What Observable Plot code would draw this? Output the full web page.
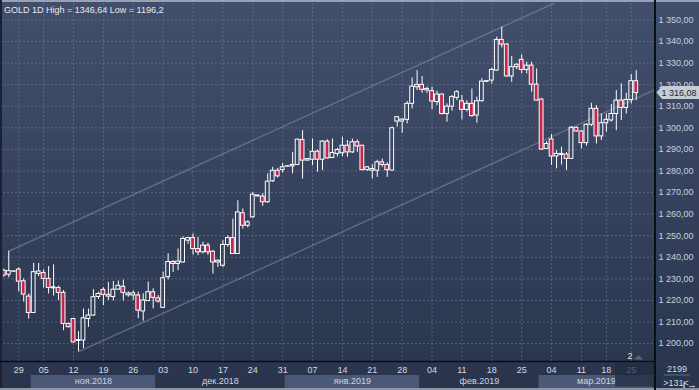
<!DOCTYPE html>
<html><head><meta charset="utf-8">
<script src="https://cdn.jsdelivr.net/npm/d3@7"></script>
<script src="https://cdn.jsdelivr.net/npm/@observablehq/plot@0.6"></script>
<style>
html,body{margin:0;padding:0;background:#2b364e;}
#chart svg{display:block;}
</style></head><body><div id="chart"></div>
<script>
const symbolName = "GOLD 1D";
const openPrices = [
1233.8,1231.9,1233.3,1234.3,1228.9,1221.8,1214.2,1232.3,1232.7,1230.0,
1225.6,1225.8,1223.5,1209.1,1211.4,1201.2,1201.4,1211.4,1213.0,1221.6,
1224.9,1221.8,1221.6,1225.0,1226.3,1222.4,1222.3,1222.3,1214.9,1219.7,
1223.8,1221.0,1216.6,1230.8,1237.8,1236.9,1237.6,1247.7,1248.9,1243.8,
1242.3,1245.4,1242.6,1237.6,1236.1,1245.7,1248.9,1241.5,1260.4,1254.6,
1258.5,1268.2,1268.1,1265.5,1275.2,1280.1,1280.4,1282.0,1282.1,1282.8,
1294.3,1284.8,1285.2,1288.9,1285.2,1293.6,1286.0,1287.9,1288.2,1291.7,
1288.6,1293.3,1291.7,1280.4,1280.9,1280.1,1284.0,1282.8,1280.2,1302.9,
1302.9,1303.7,1311.1,1318.8,1319.9,1317.3,1317.0,1311.9,1315.4,1306.4,
1309.8,1313.9,1312.3,1308.3,1311.1,1305.7,1312.3,1321.3,1321.9,1326.5,
1340.7,1338.6,1323.8,1328.1,1331.5,1326.8,1328.8,1320.0,1313.1,1290.2,
1294.6,1286.7,1287.4,1287.6,1285.6,1300.0,1298.3,1292.9,1301.4,1308.8,
1296.0,1302.1,1303.4,1306.4,1312.6,1309.2,1312.9,1321.6];
const highPrices = [
1234.5,1242.8,1233.8,1235.1,1230.0,1223.0,1237.2,1237.2,1234.1,1235.7,
1236.5,1226.6,1224.6,1209.5,1211.7,1205.5,1216.0,1216.0,1225.0,1223.8,
1225.9,1228.4,1228.8,1229.0,1229.5,1224.0,1224.5,1223.8,1223.1,1228.5,
1225.4,1222.3,1233.1,1241.6,1238.5,1243.8,1249.5,1249.2,1250.8,1249.2,
1247.0,1246.5,1243.0,1238.8,1247.7,1250.0,1257.7,1266.2,1262.4,1257.0,
1270.1,1268.9,1269.5,1278.6,1281.7,1281.2,1283.5,1282.4,1288.6,1294.8,
1298.7,1285.8,1294.8,1289.7,1294.1,1294.4,1294.8,1290.5,1295.6,1294.1,
1294.8,1294.3,1291.9,1282.0,1282.9,1285.0,1285.5,1283.8,1300.3,1305.2,
1304.2,1312.2,1323.1,1326.5,1323.8,1318.8,1318.8,1317.0,1315.7,1311.1,
1315.0,1317.3,1315.0,1312.6,1318.0,1314.2,1322.7,1321.9,1327.6,1342.0,
1346.64,1338.9,1333.0,1329.7,1333.8,1330.4,1330.4,1327.3,1313.4,1293.6,
1296.9,1289.5,1291.0,1288.6,1300.6,1300.3,1298.8,1301.9,1311.4,1310.3,
1306.4,1306.4,1310.8,1317.3,1320.4,1316.0,1324.7,1326.5];
const lowPrices = [
1230.8,1230.5,1232.9,1224.0,1219.2,1211.4,1214.0,1231.0,1225.8,1223.0,
1222.0,1219.9,1206.0,1207.2,1200.2,1196.2,1197.6,1207.5,1212.7,1220.5,
1217.6,1220.0,1219.8,1224.6,1219.7,1221.5,1220.0,1211.5,1210.4,1219.5,
1216.1,1218.7,1216.3,1229.5,1233.0,1233.8,1237.3,1246.0,1241.0,1240.7,
1241.5,1240.8,1232.2,1235.3,1235.3,1244.6,1241.3,1241.3,1253.1,1253.6,
1258.0,1268.0,1263.6,1265.0,1274.7,1276.7,1279.0,1281.8,1278.6,1282.5,
1276.3,1284.5,1282.4,1279.4,1280.1,1285.5,1285.8,1286.5,1286.6,1286.3,
1288.1,1288.6,1280.0,1279.8,1276.3,1277.0,1281.7,1277.0,1280.0,1300.3,
1297.5,1301.8,1308.8,1317.3,1316.0,1316.0,1308.3,1310.3,1306.0,1302.6,
1307.7,1312.6,1303.7,1307.3,1304.9,1302.1,1312.0,1321.0,1320.3,1326.2,
1337.0,1323.5,1321.1,1326.9,1325.0,1325.0,1316.5,1312.3,1289.5,1289.9,
1282.5,1281.0,1282.8,1280.2,1285.3,1298.0,1290.2,1291.5,1300.6,1292.5,
1294.1,1298.0,1302.6,1298.7,1303.4,1306.4,1311.1,1312.6];
const closePrices = [
1231.5,1233.6,1233.4,1228.7,1222.7,1214.2,1233.1,1233.4,1230.0,1225.8,
1226.1,1223.5,1209.1,1207.6,1200.6,1201.6,1211.7,1213.0,1221.5,1223.0,
1222.6,1222.6,1225.0,1226.8,1223.5,1223.2,1223.3,1215.3,1220.0,1223.8,
1221.2,1219.5,1230.3,1237.8,1236.9,1238.0,1248.5,1248.9,1243.8,1242.3,
1245.4,1242.3,1237.6,1238.4,1245.7,1248.9,1241.5,1260.8,1254.6,1256.2,
1269.0,1268.6,1265.5,1275.0,1280.1,1277.5,1281.7,1282.2,1282.8,1294.5,
1284.8,1285.5,1288.9,1285.2,1293.6,1285.8,1288.3,1289.7,1291.7,1288.6,
1293.3,1291.4,1280.4,1281.7,1280.1,1284.0,1282.8,1280.4,1299.8,1304.9,
1303.8,1311.1,1319.1,1319.9,1317.6,1318.0,1312.2,1315.4,1306.4,1309.8,
1314.2,1316.5,1308.3,1311.1,1305.4,1312.3,1321.4,1321.6,1326.8,1340.7,
1338.6,1323.8,1328.1,1329.2,1326.8,1328.8,1320.0,1312.6,1289.9,1292.5,
1286.7,1287.9,1287.9,1285.6,1300.0,1298.3,1292.9,1301.4,1308.8,1296.0,
1302.1,1303.7,1306.4,1312.6,1309.2,1312.9,1321.6,1316.08];

// candle index of each labelled Monday and its label
const dayTickIndex = [3,8,14,20,26,32,38,44,50,56,62,68,74,80,86,92,98,104,110,116,121,126];
const dayTickLabels = ["29","05","12","19","26","03","10","17","24","31","07","14","21","28","04","11","18","25","04","11","18","25"];
// first candle index of each month, and month names
const monthStartIndex = [6,31,57,84,108];
const monthEndIndex = [31,57,84,108,131];
const monthLabels = ["ноя.2018","дек.2018","янв.2019","фев.2019","мар.2019"];
const monthShaded = [true,false,true,false,true];
const priceTicks = [1200,1210,1220,1230,1240,1250,1260,1270,1280,1290,1300,1310,1320,1330,1340,1350];
// trend channel anchors (candle index, price)
const upperChannel = [{i:1, p:1242.8},{i:131, p:1379.2}];
const lowerChannel = [{i:15, p:1196.2},{i:131, p:1317.9}];
const barsLabel = "2199";
const visibleLabel = ">131<";

const W=699,H=390,ML=3,MR=44,MT=3,MB=29;
const candles = openPrices.map((o,i)=>{
  const c = closePrices[i];
  return {i, o, c, h: highPrices[i], l: lowPrices[i], top: Math.max(o,c), bot: Math.min(o,c), down: c < o};
});
const upC = candles.filter(d=>!d.down), downC = candles.filter(d=>d.down);
const dayMap = new Map(dayTickIndex.map((d,k)=>[d, dayTickLabels[k]]));
const monthCenters = monthStartIndex.map((s,k)=>(s+monthEndIndex[k])/2 - 0.5);
const monthMap = new Map(monthCenters.map((d,k)=>[d, monthLabels[k]]));
const fmtPrice = v => { const s = v.toFixed(2).replace(".", ","); const [a,b] = s.split(","); return (a.length>3 ? a.slice(0,a.length-3)+" "+a.slice(-3) : a) + "," + b; };
const fmtNum = v => String(v).replace(".", ",");
const gridColor = "#7a88a4";
const FONT = "9px 'Liberation Sans', Arial, sans-serif";

const plot = Plot.plot({
  width: W, height: H, marginLeft: ML, marginRight: MR, marginTop: MT, marginBottom: MB,
  x: {type: "linear", domain: [-0.06, 130.87]},
  y: {domain: [1191.7, 1357.6]},
  style: {background: "linear-gradient(180deg, #424f6c 0%, #36425d 50%, #29344c 100%)", color: "#d3d9e4", fontFamily: "'Liberation Sans', Arial, sans-serif", fontSize: "9px", overflow: "hidden"},
  marks: [
    Plot.ruleY(priceTicks, {stroke: gridColor, strokeOpacity: 0.5, strokeDasharray: "2,2"}),
    Plot.ruleX(dayTickIndex, {stroke: gridColor, strokeOpacity: 0.5, strokeDasharray: "2,2"}),
    Plot.line(upperChannel, {x: "i", y: "p", stroke: "#a3abbb", strokeOpacity: 0.38, clip: true}),
    Plot.line(lowerChannel, {x: "i", y: "p", stroke: "#a3abbb", strokeOpacity: 0.38, clip: true}),
    Plot.ruleX(candles, {x: "i", y1: "top", y2: "h", stroke: "#ffffff", clip: true}),
    Plot.ruleX(candles, {x: "i", y1: "l", y2: "bot", stroke: "#ffffff", clip: true}),
    Plot.rect(upC, {x1: d=>d.i-0.38, x2: d=>d.i+0.38, y1: "bot", y2: "top", fill: "none", stroke: "#ffffff", clip: true}),
    Plot.rect(downC, {x1: d=>d.i-0.38, x2: d=>d.i+0.38, y1: "bot", y2: "top", fill: "#c3264c", stroke: "#ffffff", clip: true}),
    Plot.axisX({ticks: dayTickIndex, tickFormat: d=>dayMap.get(d), tickSize: 0, tickPadding: 5, fill: "#d3d9e4"}),
    Plot.axisX({ticks: monthCenters, tickFormat: d=>monthMap.get(d), tickSize: 0, tickPadding: 16.5, fill: "#cdd4e0"}),
    Plot.axisY({ticks: priceTicks, anchor: "right", tickSize: 0, tickPadding: 3, tickFormat: fmtPrice, fill: "#c9d1de"})
  ]
});

const svg = d3.select(plot);
const xs = plot.scale("x"), ys = plot.scale("y");
const xpx = v => xs.apply(v), ypx = v => ys.apply(v);
const yBase = H - MB, xRight = W - MR;

// month bands (behind everything)
const back = svg.insert("g", ":first-child");
monthStartIndex.forEach((s,k)=>{
  if (!monthShaded[k]) return;
  const x0 = xpx(s-0.5), x1 = Math.min(xpx(monthEndIndex[k]-0.5), xRight);
  back.append("rect").attr("x", x0).attr("y", 375).attr("width", x1-x0).attr("height", 13).attr("fill", "#4b5977");
});

const front = svg.append("g").attr("text-anchor", "start");
// frame lines
front.append("rect").attr("x",0).attr("y",0).attr("width",W).attr("height",2).attr("fill","#98a2b4");
front.append("rect").attr("x",0).attr("y",0).attr("width",2).attr("height",H).attr("fill","#1b2233");
front.append("rect").attr("x",0).attr("y",H-2).attr("width",W).attr("height",2).attr("fill","#8c96a8");
front.append("line").attr("x1",0).attr("x2",xRight).attr("y1",yBase+0.5).attr("y2",yBase+0.5).attr("stroke","#0b0e15").attr("stroke-width",1.5);
front.append("line").attr("x1",xRight).attr("x2",xRight).attr("y1",0).attr("y2",H).attr("stroke","#0b0e15").attr("stroke-width",2);

// scroll box at bottom right of time axis
front.append("rect").attr("x",615).attr("y",yBase+1.5).attr("width",xRight-616).attr("height",24).attr("fill","#232c40").attr("opacity",0.75);
front.append("text").attr("x",630).attr("y",359).attr("text-anchor","middle").attr("fill","#e8ecf2").style("font",FONT).text("2");
front.append("polygon").attr("points","634,359.5 638.5,355 643,359.5").attr("fill","#7b869a").attr("opacity",0.6);

// bottom-right counters
front.append("text").attr("x",677).attr("y",372).attr("text-anchor","middle").attr("fill","#d3d9e4").style("font",FONT).text(barsLabel);
front.append("line").attr("x1",664).attr("x2",690).attr("y1",375).attr("y2",375).attr("stroke","#5d6a84").attr("stroke-width",1);
front.append("text").attr("x",676).attr("y",385.5).attr("text-anchor","middle").attr("fill","#d3d9e4").style("font",FONT).text(visibleLabel);

// last price tag
const lastClose = closePrices[closePrices.length-1];
const yc = ypx(lastClose);
front.append("polygon").attr("points",`${xRight+1.5},${yc} ${xRight+7},${yc-6.5} ${W},${yc-6.5} ${W},${yc+6.5} ${xRight+7},${yc+6.5}`).attr("fill","#c6cbd4");
front.append("text").attr("x",xRight+6.5).attr("y",yc+3.2).attr("text-anchor","start").attr("fill","#1c2333").style("font",FONT).text(fmtPrice(lastClose));

// title
const hi = d3.max(highPrices), lo = d3.min(lowPrices);
front.append("text").attr("x",4).attr("y",12.5).attr("text-anchor","start").attr("fill","#e6e9ef").style("font",FONT)
  .text(`${symbolName} High = ${fmtNum(hi)} Low = ${fmtNum(lo)}`);

document.getElementById("chart").appendChild(plot);
</script></body></html>
